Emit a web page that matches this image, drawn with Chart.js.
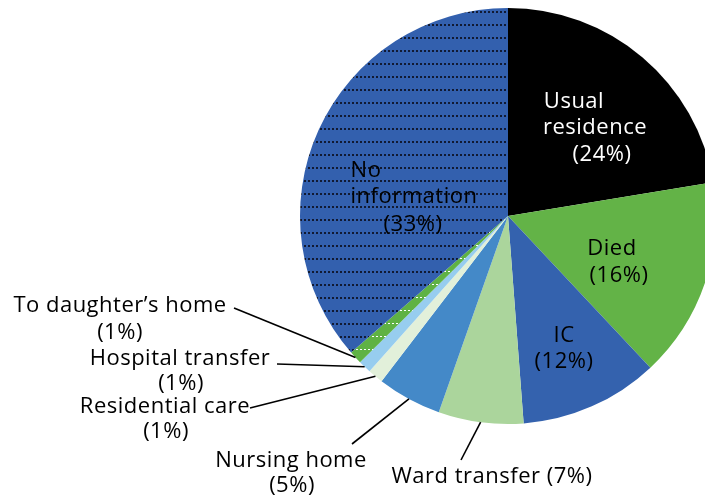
<!DOCTYPE html>
<html>
<head>
<meta charset="utf-8">
<script src="https://cdn.jsdelivr.net/npm/chart.js@4.4.1/dist/chart.umd.min.js"></script>
<style>
html, body { margin: 0; padding: 0; background: #fff; overflow: hidden; }
canvas { display: block; }
</style>
</head>
<body>
<canvas id="pieChart" width="740" height="499"></canvas>
<script>
// DATA
const categories = ["Usual residence", "Died", "IC", "Ward transfer", "Nursing home",
    "Residential care", "Hospital transfer", "To daughter\u2019s home", "No information"];
const shares = [22.4, 15.6, 10.8, 6.6, 5.0, 1.2, 1.0, 1.0, 36.4];
const percentText = ["24%", "16%", "12%", "7%", "5%", "1%", "1%", "1%", "33%"];

// dotted fills
function dotPattern(base, dot, dw, dh) {
    const c = document.createElement("canvas");
    c.width = 4;
    c.height = 13;
    const g = c.getContext("2d");
    g.fillStyle = base;
    g.fillRect(0, 0, 4, 13);
    g.fillStyle = dot;
    g.fillRect(0, 11, dw, dh);
    return g.createPattern(c, "repeat");
}

const sliceColors = [
    "#000000", "#63b347", "#3462ae", "#abd59c", "#4489c8",
    "#e2f0da", "#97cdef",
    dotPattern("#5fb244", "#ffffff", 2, 1),
    dotPattern("#3360ae", "#111a33", 2, 2)
];

// label placement: words per row, row centres, optional leader start
const labelLayout = [
    { rows: [1, 1], at: [[574, 102], [595, 128], [602, 155]], color: "#fff" },
    { rows: [1], at: [[612, 249], [619, 276]] },
    { rows: [1], at: [[564, 336], [564, 362]] },
    { inline: true, at: [[492, 477]], leader: [461, 460] },
    { rows: [2], at: [[291, 461], [292, 486]], leader: [352, 444] },
    { rows: [2], at: [[165, 407], [166, 432]], leader: [250, 408] },
    { rows: [2], at: [[180, 359], [181, 384]], leader: [277, 364] },
    { rows: [3], at: [[120, 306], [120, 333]], leader: [234, 308] },
    { rows: [1, 1], at: [[366, 171], [414, 197], [413, 225]] }
];

const pieLabels = {
    id: "pieLabels",
    afterDraw(chart) {
        const ctx = chart.ctx;
        const arcs = chart.getDatasetMeta(0).data;
        ctx.save();
        ctx.font = "22px 'Open Sans'";
        ctx.letterSpacing = "0.5px";
        ctx.textAlign = "center";
        ctx.textBaseline = "middle";
        labelLayout.forEach((lab, i) => {
            const words = categories[i].split(" ");
            let lines = [];
            if (lab.inline) {
                lines.push(categories[i] + " (" + percentText[i] + ")");
            } else {
                let k = 0;
                lab.rows.forEach(n => {
                    lines.push(words.slice(k, k + n).join(" "));
                    k += n;
                });
                lines.push("(" + percentText[i] + ")");
            }
            ctx.fillStyle = lab.color || "#000";
            lines.forEach((t, j) => ctx.fillText(t, lab.at[j][0], lab.at[j][1]));

            if (lab.leader) {
                const a = arcs[i];
                const mid = (a.startAngle + a.endAngle) / 2;
                const r = a.outerRadius;
                ctx.strokeStyle = "#000";
                ctx.lineWidth = 1.6;
                ctx.beginPath();
                ctx.moveTo(lab.leader[0], lab.leader[1]);
                ctx.lineTo(a.x + Math.cos(mid) * r, a.y + Math.sin(mid) * r);
                ctx.stroke();
            }
        });
        ctx.restore();
    }
};

// PIE CHART
new Chart(document.getElementById("pieChart"), {
    type: "pie",
    data: {
        labels: categories,
        datasets: [{
            data: shares,
            backgroundColor: sliceColors,
            borderWidth: 0
        }]
    },
    options: {
        responsive: false,
        animation: false,
        layout: { padding: { left: 300, top: 8, right: 24, bottom: 75 } },
        plugins: {
            legend: { display: false },
            tooltip: { enabled: false }
        }
    },
    plugins: [pieLabels]
});
</script>
</body>
</html>
